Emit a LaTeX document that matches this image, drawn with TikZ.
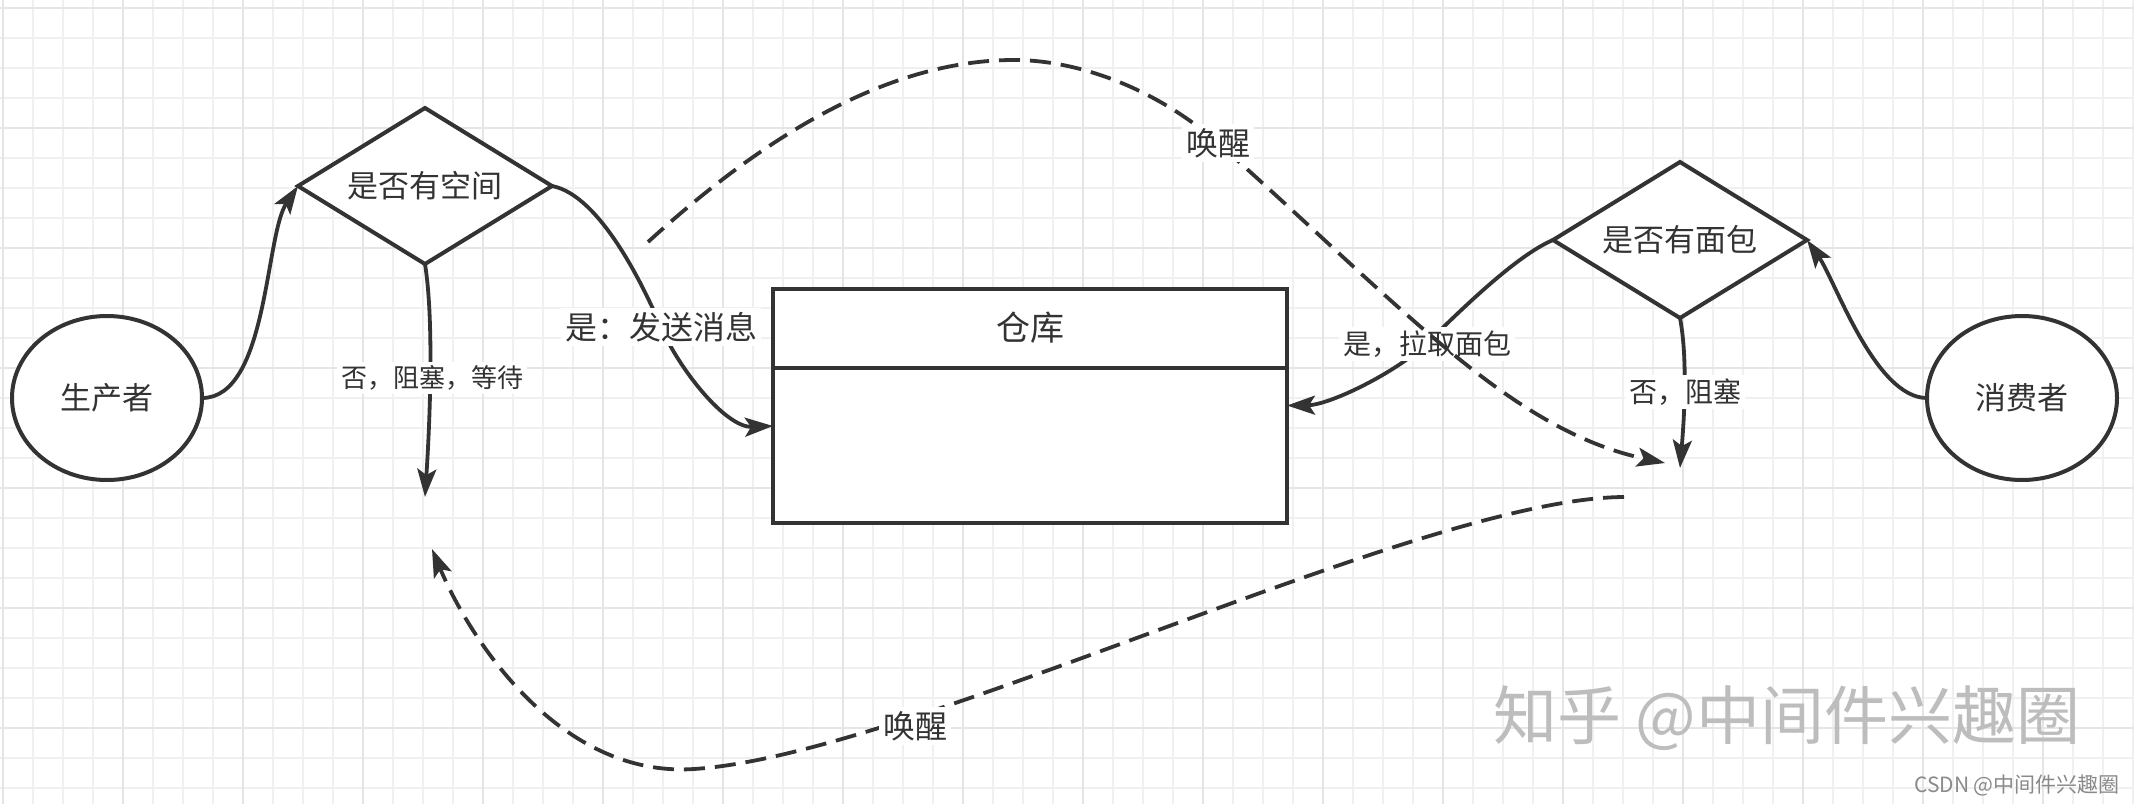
\documentclass[tikz,border=0pt]{standalone}
\usepackage{fontspec}
\setmainfont{Noto Sans CJK SC}
\usetikzlibrary{shapes.geometric,arrows.meta,calc}
\definecolor{ink}{HTML}{333333}
\definecolor{gridminor}{HTML}{F0F0F0}
\definecolor{gridmajor}{HTML}{E5E5E5}
\definecolor{wmgray}{HTML}{BDBDBD}
\definecolor{csdngray}{HTML}{8A8A8A}
\newcommand\fsz[1]{\fontsize{#1pt}{#1pt}\selectfont}
\begin{document}
\begin{tikzpicture}[x=1pt,y=-1pt,
  shapeline/.style={draw=ink, line width=4pt, fill=white, outer sep=0pt, text=ink, inner sep=0pt},
  ellnode/.style={shapeline, ellipse, minimum width=190pt, minimum height=164pt},
  dianode/.style={shapeline, diamond, aspect=1.63, minimum width=254pt, minimum height=156pt},
  conn/.style={draw=ink, line width=3.8pt, -{Stealth[length=28pt,width=19pt,inset=6pt]}},
  dashconn/.style={conn, dash pattern=on 21pt off 10pt},
  lab/.style={fill=white, text=ink, inner sep=4pt},
]
\useasboundingbox (0,0) rectangle (2134,804);
% background grid
\begin{scope}
\clip (0,0) rectangle (2134,804);
\fill[white] (0,0) rectangle (2134,804);
\foreach \x in {3,33,...,2133} \draw[gridminor, line width=2pt] (\x,0) -- (\x,804);
\foreach \y in {8,38,...,798} \draw[gridminor, line width=2pt] (0,\y) -- (2134,\y);
\foreach \x in {3,123,...,2043} \draw[gridmajor, line width=2pt] (\x,0) -- (\x,804);
\foreach \y in {8,128,...,728} \draw[gridmajor, line width=2pt] (0,\y) -- (2134,\y);
\end{scope}

% watermark
\node[text=wmgray, inner sep=0pt] (wm) at (1787,718) {\fsz{64}知乎 @中间件兴趣圈};
\node[text=csdngray, inner sep=0pt, anchor=east] (csdn) at (2120,785) {\fsz{21}CSDN @中间件兴趣圈};

% nodes
\node[ellnode] (prod) at (107,398) {\fsz{31}生产者};
\node[ellnode] (cons) at (2022,398) {\fsz{31}消费者};
\node[dianode] (d1) at (425,186) {\fsz{31}是否有空间};
\node[dianode] (d2) at (1680,240) {\fsz{31}是否有面包};
\node[shapeline, rectangle, minimum width=514pt, minimum height=234pt] (w) at (1030,405.5) {};
\coordinate (wdiv) at (1030,367.5);
\draw[ink, line width=4pt] (w.west |- wdiv) -- (w.east |- wdiv);
\node[text=ink, inner sep=0pt] (wt) at (1030,328) {\fsz{34}仓库};

% free ends
\coordinate (d1end) at (425,497);
\coordinate (d2end) at (1680,468);
\coordinate (tdS) at (648,242);
\coordinate (tdE) at (1665,463);
\coordinate (bdS) at (1624,497);
\coordinate (bdE) at (432,549);

% solid connectors
\draw[conn] (prod.east) .. controls (268,398) and (265,235) .. (d1.west);
\draw[conn] (cons.west) .. controls (1875,398) and (1835,280) .. (d2.east);
\draw[conn] (d1.east) .. controls (600,195) and (644,287) .. (661,327)
  .. controls (678,367) and (725,428) .. ([yshift=-20.5pt]w.west);
\draw[conn] (d2.west) .. controls (1515,256) and (1457,314) .. (1427,343)
  .. controls (1397,372) and (1330,405) .. (w.east);
\draw[conn] (d1.south) .. controls (434,320) and (430,420) .. (d1end);
\draw[conn] (d2.south) .. controls (1688,360) and (1684,420) .. (d2end);

% labels of solid connectors
\node[lab] (l1) at (661,327) {\fsz{32}是：发送消息};
\node[lab] (l2) at (1427,344) {\fsz{28}是，拉取面包};
\node[lab] (l3) at (432,378) {\fsz{26}否，阻塞，等待};
\node[lab] (l4) at (1685,392) {\fsz{28}否，阻塞};

% dashed connectors
\draw[dashconn] (tdS) .. controls (760,140) and (885,60) .. (1014,60)
  .. controls (1080,60) and (1158,90) .. (1218,143)
  .. controls (1400,305) and (1510,430) .. (tdE);
\draw[dashconn] (bdS) .. controls (1420,498) and (910,755) .. (694,769)
  .. controls (560,778) and (470,640) .. (bdE);
\node[lab] (l5) at (1218,143) {\fsz{32}唤醒};
\node[lab] (l6) at (915,726) {\fsz{32}唤醒};
\end{tikzpicture}
\end{document}
